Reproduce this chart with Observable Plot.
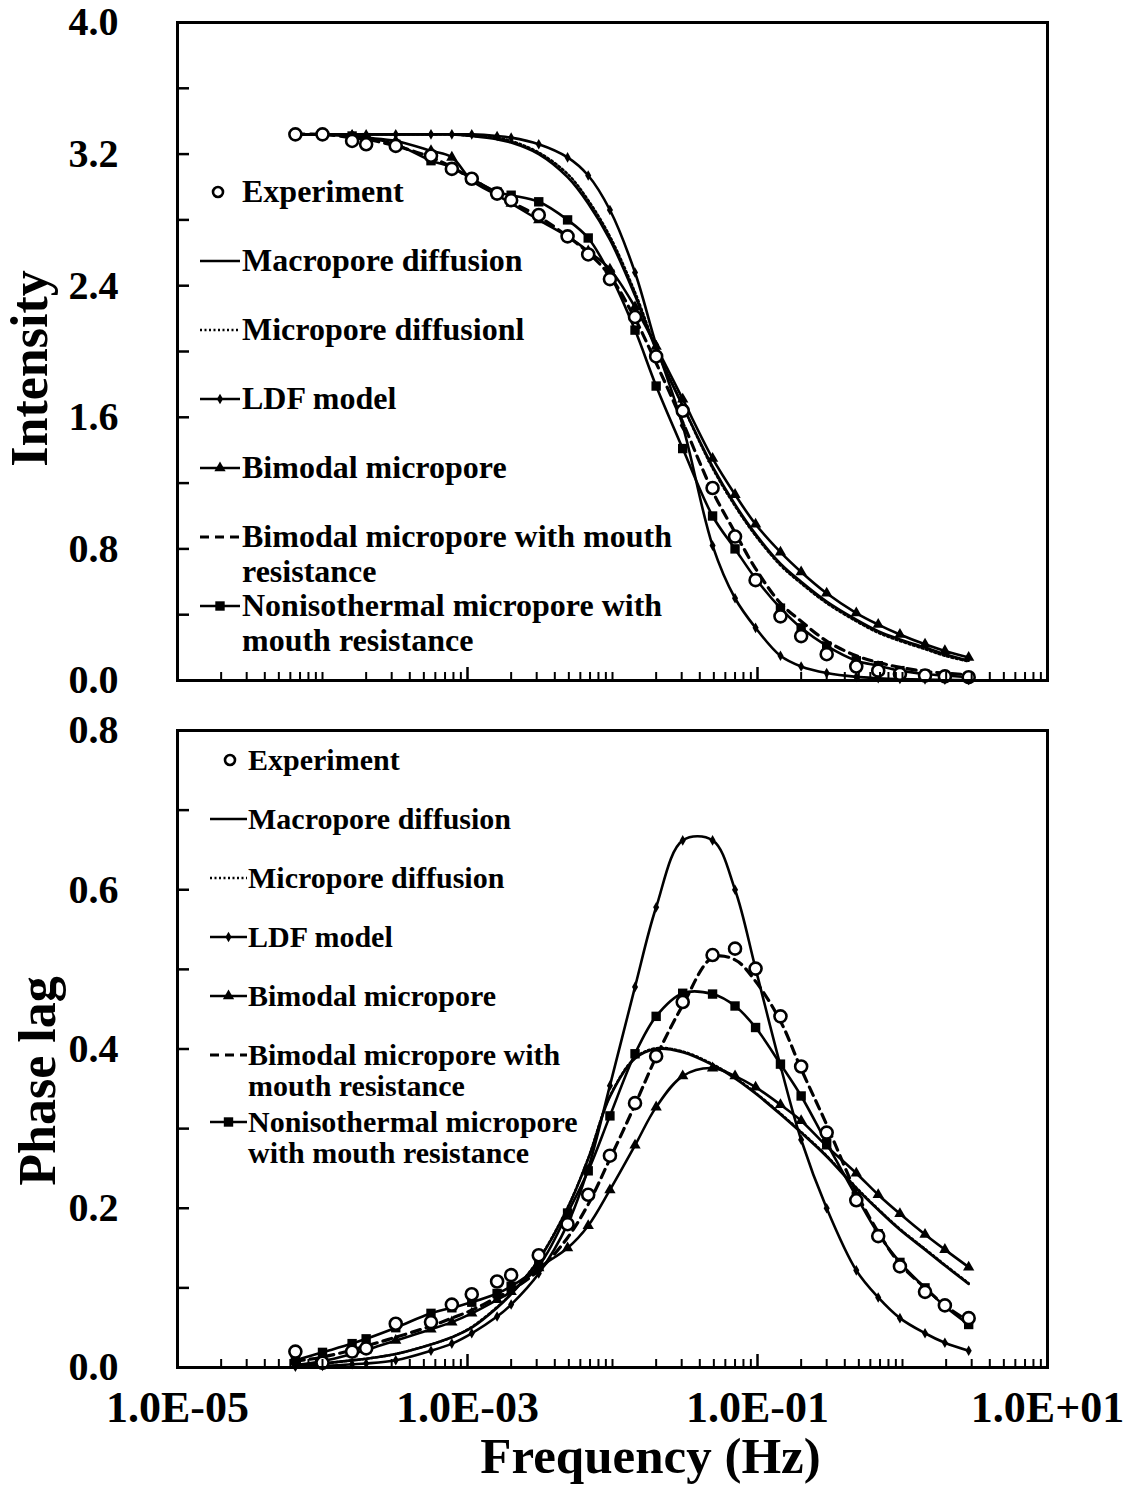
<!DOCTYPE html>
<html>
<head>
<meta charset="utf-8">
<script src="https://cdn.jsdelivr.net/npm/d3@7"></script>
<script src="https://cdn.jsdelivr.net/npm/@observablehq/plot@0.6"></script>
<style>
  body { margin: 0; background: #fff; }
  #wrap { position: relative; width: 1132px; height: 1490px; background: #fff; }
  #top { position: absolute; left: 0; top: 0; }
  #bot { position: absolute; left: 0; top: 700px; }
</style>
</head>
<body>
<div id="wrap"><div id="top"></div><div id="bot"></div></div>
<script>
// ---------------- data ----------------
const frequency = [6.5e-5, 1e-4, 1.6e-4, 2e-4, 3.2e-4, 5.6e-4, 7.8e-4, 1.07e-3, 1.6e-3, 2e-3, 3.1e-3, 4.9e-3, 6.8e-3, 9.6e-3,
  0.0143, 0.020, 0.0305, 0.049, 0.070, 0.097, 0.144, 0.20, 0.30, 0.48, 0.68, 0.96, 1.43, 1.96, 2.86];

// Intensity (top panel)
const intensityExperiment = [3.32, 3.32, 3.28, 3.26, 3.25, 3.19, 3.11, 3.05, 2.96, 2.92, 2.83, 2.70, 2.59, 2.44, 2.21, 1.97, 1.64, 1.17, 0.875, 0.61, 0.39, 0.27, 0.16, 0.085, 0.06, 0.04, 0.03, 0.025, 0.02];
const intensityMacropore   = [3.32, 3.32, 3.32, 3.32, 3.32, 3.32, 3.32, 3.31, 3.29, 3.27, 3.20, 3.06, 2.90, 2.68, 2.34, 2.01, 1.67, 1.30, 1.07, 0.89, 0.71, 0.60, 0.48, 0.37, 0.30, 0.25, 0.20, 0.16, 0.12];
const intensityMicropore   = [3.32, 3.32, 3.32, 3.32, 3.32, 3.32, 3.32, 3.31, 3.30, 3.28, 3.21, 3.08, 2.92, 2.70, 2.36, 2.02, 1.67, 1.29, 1.06, 0.88, 0.70, 0.59, 0.47, 0.36, 0.29, 0.24, 0.19, 0.15, 0.115];
const intensityLDF         = [3.32, 3.32, 3.32, 3.32, 3.32, 3.32, 3.32, 3.32, 3.31, 3.30, 3.26, 3.18, 3.07, 2.86, 2.48, 2.04, 1.55, 0.82, 0.50, 0.32, 0.15, 0.085, 0.045, 0.022, 0.014, 0.009, 0.006, 0.004, 0.003];
const intensityBimodal     = [3.32, 3.32, 3.31, 3.30, 3.28, 3.22, 3.18, 3.04, 2.95, 2.90, 2.80, 2.70, 2.61, 2.50, 2.27, 2.03, 1.71, 1.35, 1.13, 0.95, 0.78, 0.66, 0.53, 0.41, 0.34, 0.28, 0.22, 0.18, 0.14];
const intensityBimodalMouth= [3.32, 3.32, 3.30, 3.29, 3.25, 3.18, 3.12, 3.05, 2.96, 2.91, 2.82, 2.70, 2.60, 2.46, 2.20, 1.93, 1.57, 1.15, 0.90, 0.68, 0.47, 0.36, 0.24, 0.15, 0.11, 0.08, 0.055, 0.045, 0.035];
const intensityNoniso      = [3.32, 3.32, 3.31, 3.30, 3.26, 3.16, 3.12, 3.05, 2.97, 2.95, 2.91, 2.80, 2.69, 2.47, 2.13, 1.79, 1.41, 1.00, 0.80, 0.62, 0.44, 0.32, 0.21, 0.12, 0.09, 0.06, 0.04, 0.03, 0.02];

// Phase lag (bottom panel)
const phaseExperiment   = [0.020, 0.006, 0.020, 0.024, 0.055, 0.057, 0.079, 0.092, 0.108, 0.116, 0.141, 0.180, 0.217, 0.266, 0.332, 0.391, 0.459, 0.518, 0.526, 0.501, 0.441, 0.378, 0.295, 0.210, 0.165, 0.127, 0.095, 0.078, 0.062];
const phaseMacropore    = [0.003, 0.005, 0.009, 0.011, 0.017, 0.029, 0.038, 0.050, 0.075, 0.092, 0.135, 0.200, 0.262, 0.340, 0.388, 0.400, 0.396, 0.380, 0.363, 0.344, 0.318, 0.295, 0.265, 0.225, 0.198, 0.173, 0.148, 0.128, 0.105];
const phaseMicropore    = [0.003, 0.005, 0.009, 0.011, 0.017, 0.029, 0.038, 0.051, 0.076, 0.093, 0.136, 0.201, 0.263, 0.341, 0.389, 0.401, 0.397, 0.381, 0.364, 0.345, 0.319, 0.296, 0.266, 0.226, 0.199, 0.174, 0.149, 0.129, 0.106];
const phaseLDF          = [0.001, 0.002, 0.004, 0.005, 0.009, 0.021, 0.030, 0.043, 0.064, 0.079, 0.118, 0.180, 0.250, 0.354, 0.478, 0.578, 0.662, 0.662, 0.600, 0.501, 0.379, 0.286, 0.200, 0.122, 0.088, 0.062, 0.043, 0.031, 0.021];
const phaseBimodal      = [0.003, 0.008, 0.017, 0.022, 0.034, 0.048, 0.057, 0.068, 0.085, 0.095, 0.125, 0.150, 0.178, 0.223, 0.279, 0.327, 0.366, 0.376, 0.366, 0.352, 0.330, 0.310, 0.278, 0.244, 0.217, 0.193, 0.167, 0.148, 0.126];
const phaseBimodalMouth = [0.008, 0.013, 0.022, 0.027, 0.038, 0.052, 0.062, 0.072, 0.088, 0.097, 0.122, 0.163, 0.205, 0.262, 0.330, 0.390, 0.455, 0.515, 0.512, 0.485, 0.435, 0.375, 0.305, 0.220, 0.170, 0.130, 0.100, 0.078, 0.058];
const phaseNoniso       = [0.009, 0.019, 0.030, 0.036, 0.050, 0.068, 0.075, 0.082, 0.093, 0.102, 0.128, 0.194, 0.247, 0.316, 0.394, 0.441, 0.470, 0.469, 0.454, 0.427, 0.381, 0.341, 0.282, 0.215, 0.168, 0.132, 0.100, 0.077, 0.054];

// ticks
const xMajorTicks = [1e-5, 1e-3, 1e-1, 1e1];
const xMinorTicks = [-5, -4, -3, -2, -1, 0].flatMap(e => [1, 2, 3, 4, 5, 6, 7, 8, 9].map(m => m * Math.pow(10, e)))
  .filter(v => !xMajorTicks.some(M => Math.abs(M - v) / M < 1e-9));
const intensityTicks = [0.4, 0.8, 1.2, 1.6, 2.0, 2.4, 2.8, 3.2, 3.6];
const intensityLabels = [0, 0.8, 1.6, 2.4, 3.2, 4.0];
const phaseTicks = [0.1, 0.2, 0.3, 0.4, 0.5, 0.6, 0.7];
const phaseLabels = [0, 0.2, 0.4, 0.6, 0.8];

// legends
const topLegend = [
  {type: "exp", lines: ["Experiment"]},
  {type: "solid", lines: ["Macropore diffusion"]},
  {type: "dotted", lines: ["Micropore diffusionl"]},
  {type: "ldf", lines: ["LDF model"]},
  {type: "bimodal", lines: ["Bimodal micropore"]},
  {type: "dashed", lines: ["Bimodal micropore with mouth", "resistance"]},
  {type: "noniso", lines: ["Nonisothermal micropore with", "mouth resistance"]}
];
const botLegend = [
  {type: "exp", lines: ["Experiment"]},
  {type: "solid", lines: ["Macropore diffusion"]},
  {type: "dotted", lines: ["Micropore diffusion"]},
  {type: "ldf", lines: ["LDF model"]},
  {type: "bimodal", lines: ["Bimodal micropore"]},
  {type: "dashed", lines: ["Bimodal micropore with", "mouth resistance"]},
  {type: "noniso", lines: ["Nonisothermal micropore", "with mouth resistance"]}
];

// ---------------- drawing ----------------
const FONT = '"Liberation Serif", "Times New Roman", serif';
const fmtE = d => { const e = Math.round(Math.log10(d)); return "1.0E" + (e < 0 ? "-" : "+") + String(Math.abs(e)).padStart(2, "0"); };

function rowsOf(map) {
  return Object.entries(map).flatMap(([s, vals]) => vals.map((v, i) => ({series: s, f: frequency[i], v})));
}

const STY = {
  solid: {stroke: "#000", strokeWidth: 2.6},
  dotted: {stroke: "#000", strokeWidth: 2.4, strokeDasharray: "2,2.5"},
  dashed: {stroke: "#000", strokeWidth: 3.2, strokeDasharray: "9,6"}
};
const SYM = {
  ldf: {symbol: "diamond", r: 3.2, fill: "#000"},
  bimodal: {symbol: "triangle", r: 4.2, fill: "#000"},
  noniso: {symbol: "square", r: 5.3, fill: "#000"},
  exp: {symbol: "circle", r: 6, fill: "#fff", stroke: "#000", strokeWidth: 2.6}
};

function panel(o) {
  const rows = rowsOf(o.series);
  const sel = s => rows.filter(r => r.series === s);
  const line = (s, st) => Plot.line(sel(s), {x: "f", y: "v", curve: "catmull-rom", ...st});
  const dot = (s, sy) => Plot.dot(sel(s), {x: "f", y: "v", ...sy});
  const marks = [
    line("macro", STY.solid),
    line("micro", STY.dotted),
    line("ldf", STY.solid), dot("ldf", SYM.ldf),
    line("bimodal", STY.solid), dot("bimodal", SYM.bimodal),
    line("mouth", STY.dashed),
    line("noniso", STY.solid), dot("noniso", SYM.noniso),
    dot("exp", SYM.exp),
    Plot.frame({stroke: "#000", strokeWidth: 3}),
    Plot.axisY({ticks: o.yTicks, tickSize: -12, strokeWidth: 2.5, fill: "none", label: null}),
    Plot.axisY({ticks: o.yLabels, tickSize: 0, tickPadding: 59, tickFormat: d => d.toFixed(1),
      fontSize: 40, fontWeight: "bold", fontFamily: FONT, fill: "#000", label: null}),
    Plot.axisX({ticks: xMinorTicks, tickSize: -8, strokeWidth: 2, fill: "none", label: null}),
    Plot.axisX({ticks: xMajorTicks, tickSize: -13, strokeWidth: 2.5, fill: "none", label: null}),
    Plot.text([o.yTitle], {text: d => d, frameAnchor: "left", dx: o.yTitleDx, dy: o.yTitleDy, rotate: -90,
      textAnchor: "middle", lineAnchor: "middle",
      fontSize: 52, fontWeight: "bold", fontFamily: FONT, fill: "#000"})
  ];
  if (o.xLabels) {
    marks.push(Plot.axisX({ticks: xMajorTicks, tickSize: 0, tickPadding: 23, tickFormat: fmtE,
      fontSize: 44, fontWeight: "bold", fontFamily: FONT, fill: "#000", label: null}));
    marks.push(Plot.text([o.xTitle], {text: d => d, frameAnchor: "bottom", dx: 38, dy: 89,
      textAnchor: "middle", lineAnchor: "middle",
      fontSize: 51, fontWeight: "bold", fontFamily: FONT, fill: "#000"}));
  }
  const svg = Plot.plot({
    width: 1132, height: o.height,
    marginLeft: 177, marginRight: 85, marginTop: o.marginTop, marginBottom: o.marginBottom,
    style: {fontFamily: FONT, background: "#fff", overflow: "visible"},
    x: {type: "log", domain: [1e-5, 10]},
    y: {domain: o.yDomain},
    marks
  });
  drawLegend(svg, o.legend, o.leg);
  return svg;
}

function drawLegend(svg, items, L) {
  const g = d3.select(svg).append("g")
    .attr("font-family", FONT).attr("font-weight", "bold").attr("font-size", L.fontSize)
    .attr("fill", "#000").attr("text-anchor", "start");
  items.forEach((it, i) => {
    const cy = L.y0 + i * L.step + (i === items.length - 1 ? L.lastShift : 0);
    const drawLine = st => {
      const ln = g.append("line").attr("x1", L.lx1).attr("x2", L.lx2).attr("y1", cy).attr("y2", cy)
        .attr("stroke", "#000").attr("stroke-width", st.strokeWidth);
      if (st.strokeDasharray) ln.attr("stroke-dasharray", st.strokeDasharray);
    };
    const drawSym = sy => {
      const type = {circle: d3.symbolCircle, diamond: d3.symbolDiamond, triangle: d3.symbolTriangle, square: d3.symbolSquare}[sy.symbol];
      g.append("path").attr("d", d3.symbol(type, Math.PI * sy.r * sy.r)())
        .attr("transform", `translate(${sy.symbol === "circle" ? L.cx : (L.lx1 + L.lx2) / 2},${cy})`)
        .attr("fill", sy.fill).attr("stroke", sy.stroke || "none").attr("stroke-width", sy.strokeWidth || 0);
    };
    if (it.type === "exp") drawSym({...SYM.exp, r: 5});
    else if (it.type === "solid") drawLine(STY.solid);
    else if (it.type === "dotted") drawLine(STY.dotted);
    else if (it.type === "dashed") drawLine(STY.dashed);
    else { drawLine(STY.solid); drawSym(SYM[it.type]); }
    it.lines.forEach((t, j) => g.append("text").attr("x", L.tx).attr("y", cy + 10 + j * L.gap)
      .attr("text-anchor", "start").text(t));
  });
}

document.getElementById("top").appendChild(panel({
  height: 700, marginTop: 22, marginBottom: 20,
  yDomain: [0, 4], yTicks: intensityTicks, yLabels: intensityLabels,
  yTitle: "Intensity", yTitleDx: -147, yTitleDy: 17, xLabels: false,
  series: {exp: intensityExperiment, macro: intensityMacropore, micro: intensityMicropore, ldf: intensityLDF,
    bimodal: intensityBimodal, mouth: intensityBimodalMouth, noniso: intensityNoniso},
  legend: topLegend,
  leg: {fontSize: 32, y0: 192, step: 69, gap: 35, lastShift: 0, lx1: 200, lx2: 240, cx: 218, tx: 242}
}));

document.getElementById("bot").appendChild(panel({
  height: 790, marginTop: 30, marginBottom: 123,
  yDomain: [0, 0.8], yTicks: phaseTicks, yLabels: phaseLabels,
  yTitle: "Phase lag", yTitleDx: -139, yTitleDy: 32, xLabels: true, xTitle: "Frequency (Hz)",
  series: {exp: phaseExperiment, macro: phaseMacropore, micro: phaseMicropore, ldf: phaseLDF,
    bimodal: phaseBimodal, mouth: phaseBimodalMouth, noniso: phaseNoniso},
  legend: botLegend,
  leg: {fontSize: 30, y0: 60, step: 59, gap: 31, lastShift: 8, lx1: 210, lx2: 247, cx: 230, tx: 248}
}));
</script>
</body>
</html>
